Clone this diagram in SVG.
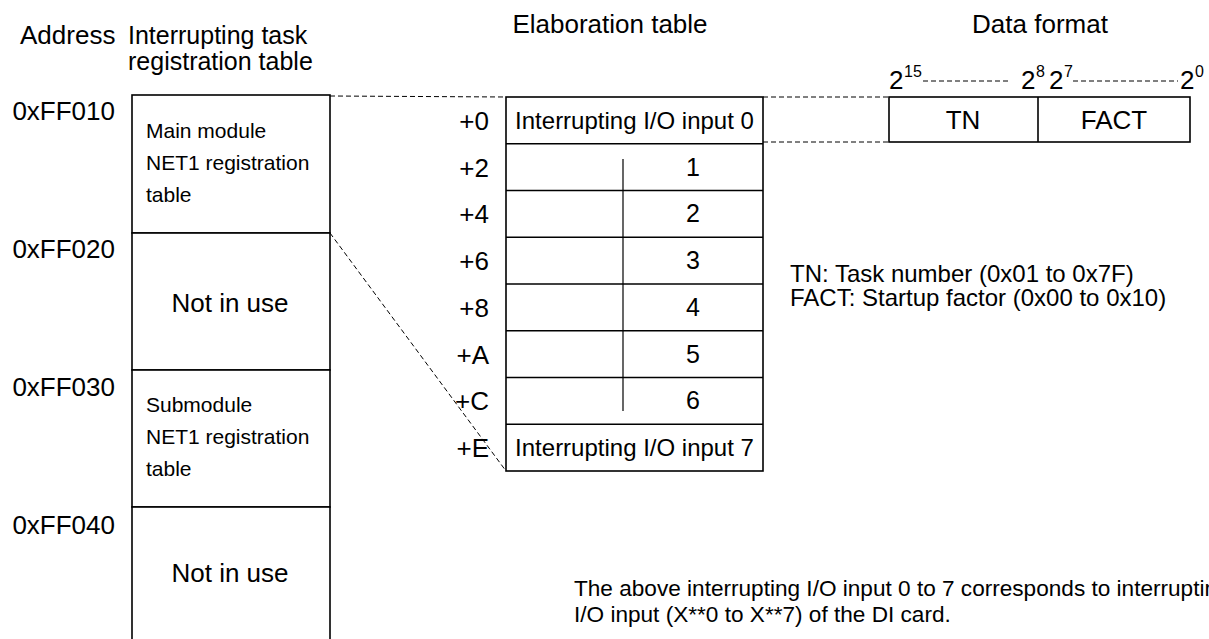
<svg xmlns="http://www.w3.org/2000/svg" width="1209" height="639" viewBox="0 0 1209 639">
  <style>
    text { font-family: "Liberation Sans", Arial, sans-serif; fill: #000; }
    .t26 { font-size: 26px; }
    .t25 { font-size: 25px; }
    .t24 { font-size: 24px; }
    .t21 { font-size: 21px; }
    .note { font-size: 22.6px; }
    .sup { font-size: 16px; }
    .mid { text-anchor: middle; }
    .end { text-anchor: end; }
    .box { fill: #fff; stroke: #000; stroke-width: 1.6; }
    .ln { stroke: #000; stroke-width: 1.6; fill: none; }
    .ln1 { stroke: #000; stroke-width: 1.2; fill: none; }
    .dash { stroke: #000; stroke-width: 1; fill: none; stroke-dasharray: 5 3; }
  </style>

  <!-- column headings -->
  <g id="headings">
    <text class="t26" x="20" y="44">Address</text>
    <text class="t25" x="128" y="44">Interrupting task</text>
    <text class="t25" x="128" y="70">registration table</text>
    <text class="t26 mid" x="610" y="33">Elaboration table</text>
    <text class="t26 mid" x="1040" y="33">Data format</text>
  </g>

  <!-- connectors: dashed projection lines -->
  <g id="connectors">
    <line class="dash" x1="330" y1="96" x2="506" y2="97"/>
    <line class="dash" x1="763" y1="97" x2="889" y2="97"/>
    <line class="dash" x1="763" y1="142" x2="889" y2="142"/>
    <line class="dash" x1="330" y1="233" x2="506" y2="471"/>
  </g>

  <!-- address labels -->
  <g id="addresses">
    <text class="t26 end" x="115" y="120">0xFF010</text>
    <text class="t26 end" x="115" y="258">0xFF020</text>
    <text class="t26 end" x="115" y="396">0xFF030</text>
    <text class="t26 end" x="115" y="534">0xFF040</text>
  </g>

  <!-- interrupting task registration table -->
  <g id="reg-main">
    <rect class="box" x="132" y="95" width="198" height="138"/>
    <text class="t21" x="146" y="138">Main module</text>
    <text class="t21" x="146" y="170">NET1 registration</text>
    <text class="t21" x="146" y="202">table</text>
  </g>
  <g id="reg-unused-1">
    <rect class="box" x="132" y="233" width="198" height="137"/>
    <text class="t26 mid" x="230" y="312">Not in use</text>
  </g>
  <g id="reg-sub">
    <rect class="box" x="132" y="370" width="198" height="137"/>
    <text class="t21" x="146" y="412">Submodule</text>
    <text class="t21" x="146" y="444">NET1 registration</text>
    <text class="t21" x="146" y="476">table</text>
  </g>
  <g id="reg-unused-2">
    <rect class="box" x="132" y="507" width="198" height="145"/>
    <text class="t26 mid" x="230" y="582">Not in use</text>
  </g>

  <!-- elaboration table -->
  <g id="elaboration">
    <rect class="box" x="506" y="97" width="257" height="374"/>
    <line class="ln" x1="506" y1="143.75" x2="763" y2="143.75"/>
    <line class="ln" x1="506" y1="190.5" x2="763" y2="190.5"/>
    <line class="ln" x1="506" y1="237.25" x2="763" y2="237.25"/>
    <line class="ln" x1="506" y1="284" x2="763" y2="284"/>
    <line class="ln" x1="506" y1="330.75" x2="763" y2="330.75"/>
    <line class="ln" x1="506" y1="377.5" x2="763" y2="377.5"/>
    <line class="ln" x1="506" y1="424.25" x2="763" y2="424.25"/>
    <line class="ln1" x1="623" y1="159" x2="623" y2="411"/>

    <text class="t26 end" x="489" y="130">+0</text>
    <text class="t26 end" x="489" y="177">+2</text>
    <text class="t26 end" x="489" y="223">+4</text>
    <text class="t26 end" x="489" y="270">+6</text>
    <text class="t26 end" x="489" y="317">+8</text>
    <text class="t26 end" x="489" y="364">+A</text>
    <text class="t26 end" x="489" y="410">+C</text>
    <text class="t26 end" x="489" y="457">+E</text>

    <text class="t24 mid" x="634.5" y="129">Interrupting I/O input 0</text>
    <text class="t25 mid" x="693" y="176">1</text>
    <text class="t25 mid" x="693" y="222">2</text>
    <text class="t25 mid" x="693" y="269">3</text>
    <text class="t25 mid" x="693" y="316">4</text>
    <text class="t25 mid" x="693" y="363">5</text>
    <text class="t25 mid" x="693" y="409">6</text>
    <text class="t24 mid" x="634.5" y="456">Interrupting I/O input 7</text>
  </g>

  <!-- data format word -->
  <g id="data-format">
    <rect class="box" x="889" y="97" width="301" height="45"/>
    <line class="ln" x1="1038" y1="97" x2="1038" y2="142"/>
    <text class="t26 mid" x="963" y="129">TN</text>
    <text class="t26 mid" x="1114" y="129">FACT</text>

    <text class="t26" x="889" y="89">2</text>
    <text class="sup" x="904" y="77">15</text>
    <line class="dash" x1="923" y1="81" x2="1010" y2="81"/>
    <text class="t26" x="1021" y="89">2</text>
    <text class="sup" x="1036" y="77">8</text>
    <text class="t26" x="1049" y="89">2</text>
    <text class="sup" x="1064" y="77">7</text>
    <line class="dash" x1="1073" y1="81" x2="1178" y2="81"/>
    <text class="t26" x="1180" y="89">2</text>
    <text class="sup" x="1195" y="77">0</text>
  </g>

  <!-- field legend -->
  <g id="legend">
    <text class="t24" x="790" y="282">TN: Task number (0x01 to 0x7F)</text>
    <text class="t24" x="790" y="306">FACT: Startup factor (0x00 to 0x10)</text>
  </g>

  <!-- footnote -->
  <g id="note">
    <text class="note" x="574" y="596">The above interrupting I/O input 0 to 7 corresponds to interrupting</text>
    <text class="note" x="574" y="622">I/O input (X**0 to X**7) of the DI card.</text>
  </g>
</svg>
